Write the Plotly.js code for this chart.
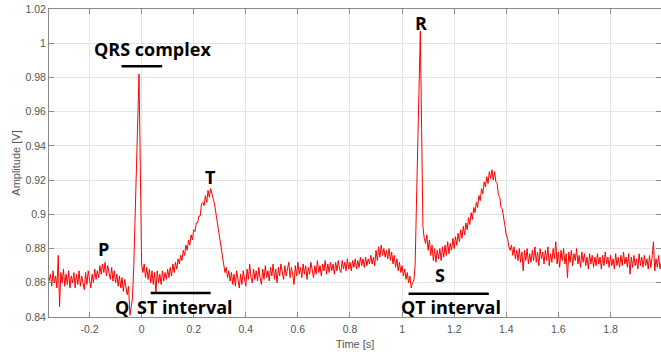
<!DOCTYPE html>
<html>
<head>
<meta charset="utf-8">
<script src="https://cdn.plot.ly/plotly-3.0.1.min.js"></script>
<style>html,body{margin:0;padding:0;background:#fff;}#chart{width:661px;height:352px;}</style>
</head>
<body>
<div id="chart"></div>
<script>
const sampleStart = -0.355;
const sampleStep = 0.005;
const amplitude = [
  0.861,0.865,0.858,0.867,0.860,0.864,0.857,0.876,0.846,0.866,0.860,0.868,0.858,0.865,0.859,0.867,0.857,0.864,0.860,0.866,
  0.857,0.865,0.859,0.867,0.858,0.864,0.860,0.856,0.866,0.859,0.867,0.861,0.857,0.865,0.860,0.868,0.862,0.867,0.863,0.870,
  0.865,0.871,0.866,0.872,0.864,0.870,0.865,0.862,0.869,0.861,0.867,0.860,0.865,0.858,0.864,0.857,0.863,0.855,0.862,0.856,
  0.853,0.858,0.841,0.846,0.851,0.870,0.902,0.936,0.966,0.982,0.928,0.871,0.866,0.871,0.863,0.869,0.862,0.868,0.860,0.867,
  0.859,0.866,0.854,0.867,0.860,0.865,0.859,0.867,0.861,0.866,0.862,0.868,0.863,0.869,0.864,0.871,0.866,0.872,0.868,0.874,
  0.871,0.876,0.873,0.879,0.876,0.882,0.879,0.885,0.882,0.888,0.885,0.891,0.890,0.895,0.895,0.899,0.899,0.906,0.907,0.905,
  0.911,0.907,0.914,0.910,0.915,0.911,0.909,0.906,0.901,0.896,0.892,0.887,0.881,0.876,0.870,0.866,0.869,0.863,0.867,0.861,
  0.866,0.859,0.865,0.858,0.867,0.860,0.857,0.865,0.859,0.867,0.861,0.858,0.868,0.862,0.871,0.863,0.860,0.868,0.862,0.867,
  0.861,0.869,0.863,0.859,0.868,0.862,0.870,0.863,0.867,0.861,0.869,0.864,0.871,0.862,0.868,0.860,0.869,0.864,0.871,0.865,
  0.862,0.870,0.864,0.868,0.872,0.863,0.869,0.865,0.859,0.870,0.864,0.872,0.865,0.869,0.863,0.871,0.865,0.870,0.862,0.869,
  0.865,0.872,0.866,0.863,0.870,0.865,0.873,0.866,0.870,0.864,0.871,0.867,0.873,0.865,0.871,0.866,0.872,0.867,0.871,0.865,
  0.872,0.867,0.873,0.868,0.866,0.873,0.868,0.872,0.867,0.874,0.868,0.872,0.867,0.873,0.869,0.874,0.868,0.873,0.869,0.875,
  0.870,0.874,0.869,0.875,0.870,0.874,0.871,0.876,0.871,0.875,0.870,0.879,0.873,0.881,0.875,0.882,0.876,0.880,0.875,0.879,
  0.874,0.880,0.873,0.878,0.871,0.876,0.869,0.874,0.867,0.872,0.866,0.870,0.864,0.868,0.862,0.866,0.860,0.864,0.857,0.860,
  0.861,0.870,0.905,0.945,0.978,1.007,0.950,0.893,0.886,0.883,0.888,0.879,0.885,0.876,0.882,0.873,0.880,0.872,0.879,0.874,
  0.880,0.873,0.881,0.875,0.882,0.876,0.884,0.877,0.883,0.879,0.886,0.880,0.887,0.882,0.889,0.884,0.891,0.886,0.893,0.888,
  0.895,0.891,0.898,0.894,0.901,0.897,0.904,0.901,0.907,0.904,0.911,0.908,0.915,0.912,0.919,0.916,0.922,0.918,0.925,0.921,
  0.926,0.920,0.925,0.919,0.918,0.911,0.910,0.904,0.903,0.896,0.893,0.888,0.886,0.881,0.879,0.882,0.876,0.881,0.874,0.879,
  0.873,0.880,0.872,0.878,0.867,0.879,0.873,0.880,0.871,0.877,0.872,0.879,0.873,0.881,0.872,0.878,0.870,0.880,0.874,0.878,
  0.871,0.879,0.873,0.881,0.870,0.877,0.872,0.880,0.874,0.884,0.871,0.878,0.869,0.879,0.873,0.880,0.871,0.877,0.863,0.878,
  0.872,0.879,0.870,0.877,0.873,0.880,0.871,0.876,0.869,0.878,0.872,0.877,0.870,0.875,0.868,0.877,0.871,0.876,0.869,0.875,
  0.870,0.877,0.871,0.875,0.868,0.876,0.870,0.878,0.871,0.875,0.869,0.876,0.870,0.874,0.868,0.877,0.870,0.875,0.869,0.876,
  0.870,0.878,0.871,0.875,0.869,0.877,0.865,0.875,0.869,0.876,0.870,0.874,0.868,0.877,0.870,0.875,0.869,0.876,0.870,0.874,
  0.868,0.876,0.869,0.875,0.884,0.867,0.874,0.869,0.876,0.868,0.872
];
const time = amplitude.map((_, i) => +(sampleStart + i * sampleStep).toFixed(3));

// Tick labels
const xTickVals = [-0.2, 0, 0.2, 0.4, 0.6, 0.8, 1, 1.2, 1.4, 1.6, 1.8];
const xTickText = ['-0.2', '0', '0.2', '0.4', '0.6', '0.8', '1', '1.2', '1.4', '1.6', '1.8'];
const yTickVals = [0.84, 0.86, 0.88, 0.9, 0.92, 0.94, 0.96, 0.98, 1, 1.02];
const yTickText = ['0.84', '0.86', '0.88', '0.9', '0.92', '0.94', '0.96', '0.98', '1', '1.02'];

// Wave labels
const labelText = ['QRS complex', 'P', 'Q', 'T', 'ST interval', 'R', 'S', 'QT interval'];
const labelX = [0.041, -0.145, -0.077, 0.263, 0.167, 1.073, 1.147, 1.186];
const labelY = [0.9965, 0.8796, 0.8457, 0.9218, 0.8457, 1.0119, 0.8643, 0.8457];

// Interval bars
const barStart = [-0.077, 0.035, 1.025];
const barEnd = [0.079, 0.265, 1.333];
const barLevel = [0.9865, 0.854, 0.8536];

const trace = {
  x: time, y: amplitude, type: 'scatter', mode: 'lines',
  line: {color: '#ff0000', width: 1}, hoverinfo: 'skip'
};

const axisCommon = {
  showgrid: true, gridcolor: '#e4e4e4', gridwidth: 1,
  zeroline: false, showline: true, linecolor: '#8a8a8a', linewidth: 1,
  mirror: 'ticks', ticks: 'inside', ticklen: 5, tickcolor: '#8a8a8a',
  tickfont: {family: 'Liberation Sans, Arial, sans-serif', size: 10.5, color: '#555'},
  tickmode: 'array'
};

const layout = {
  width: 661, height: 352,
  margin: {l: 49, r: 0, t: 9, b: 35},
  paper_bgcolor: '#fff', plot_bgcolor: '#fff',
  showlegend: false,
  xaxis: Object.assign({}, axisCommon, {
    range: [-0.3555, 1.994],
    tickvals: xTickVals, ticktext: xTickText, ticklabelstandoff: 2,
    title: {text: 'Time [s]', font: {family: 'Liberation Sans, Arial, sans-serif', size: 11, color: '#555'}, standoff: 6}
  }),
  yaxis: Object.assign({}, axisCommon, {
    range: [0.84, 1.02],
    tickvals: yTickVals, ticktext: yTickText,
    title: {text: 'Amplitude [V]', font: {family: 'Liberation Sans, Arial, sans-serif', size: 11, color: '#555'}, standoff: 2}
  }),
  annotations: labelText.map((t, i) => ({
    x: labelX[i], y: labelY[i], xref: 'x', yref: 'y', text: t, showarrow: false,
    font: {family: 'Open Sans, sans-serif', size: 18, color: '#000', weight: 'bold'},
    xanchor: 'center', yanchor: 'middle'
  })),
  shapes: barStart.map((s, i) => ({
    type: 'line', xref: 'x', yref: 'y', x0: s, x1: barEnd[i], y0: barLevel[i], y1: barLevel[i],
    line: {color: '#000', width: 2.5}
  }))
};

Plotly.newPlot('chart', [trace], layout, {displayModeBar: false, staticPlot: true});
</script>
</body>
</html>
